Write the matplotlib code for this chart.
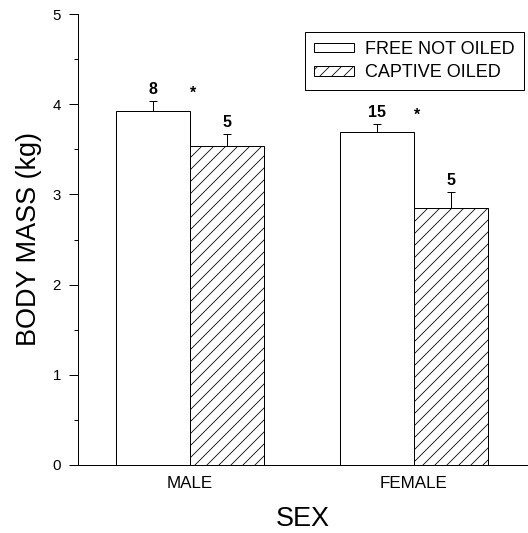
import matplotlib
matplotlib.use('Agg')
import matplotlib.pyplot as plt
import numpy as np

# data
sexes = ['MALE', 'FEMALE']
free_mean = [3.92, 3.69]
free_sem = [0.11, 0.09]
free_n = [8, 15]
oiled_mean = [3.54, 2.85]
oiled_sem = [0.13, 0.18]
oiled_n = [5, 5]
series_names = ['FREE NOT OILED', 'CAPTIVE OILED']

plt.rcParams['font.family'] = ['Liberation Sans', 'DejaVu Sans']
plt.rcParams['hatch.linewidth'] = 0.8

# dpi 72 so one point is one pixel
fig = plt.figure(figsize=(528 / 72, 533 / 72), dpi=72)
ax = fig.add_axes([78 / 528, 1 - 465 / 533, 450 / 528, 451 / 533])

x = np.arange(len(sexes))
w = 0.33
err_kw = dict(ecolor='black', elinewidth=1, capsize=4, capthick=1)

b1 = ax.bar(x - w / 2, free_mean, w, color='white', edgecolor='black', linewidth=1,
            yerr=[np.zeros(len(x)), free_sem], error_kw=err_kw, label=series_names[0])
b2 = ax.bar(x + w / 2, oiled_mean, w, color='white', edgecolor='black', linewidth=1,
            hatch='//', yerr=[np.zeros(len(x)), oiled_sem], error_kw=err_kw,
            label=series_names[1])

for xs, m, s, n in zip(x - w / 2, free_mean, free_sem, free_n):
    ax.annotate(str(n), (xs, m + s), xytext=(0, 4), textcoords='offset points',
                ha='center', va='bottom', fontsize=16, fontweight='bold')
for xs, m, s, n in zip(x + w / 2, oiled_mean, oiled_sem, oiled_n):
    ax.annotate(str(n), (xs, m + s), xytext=(0, 4), textcoords='offset points',
                ha='center', va='bottom', fontsize=16, fontweight='bold')
# significance stars
for xs, m, s in zip(x, free_mean, free_sem):
    ax.annotate('*', (xs, m + s), xytext=(3, 1), textcoords='offset points',
                ha='center', va='bottom', fontsize=16, fontweight='bold')

ax.set_xlim(-0.5, 1.51)
ax.set_ylim(0, 5)
ax.set_yticks([0, 1, 2, 3, 4, 5])
ax.set_yticks(np.arange(0.5, 5, 1), minor=True)
ax.set_xticks(x)
ax.set_xticklabels(sexes, fontsize=17)
ax.tick_params(axis='x', length=0, pad=11)
ax.tick_params(axis='y', which='major', length=9, width=1, labelsize=15, pad=8)
ax.tick_params(axis='y', which='minor', length=4, width=1)
for side in ['top', 'right']:
    ax.spines[side].set_visible(False)
for side in ['left', 'bottom']:
    ax.spines[side].set_linewidth(1)

ax.set_xlabel('SEX', fontsize=27, labelpad=15)
ax.set_ylabel('BODY MASS (kg)', fontsize=27, labelpad=10)

leg = ax.legend(loc='upper right', bbox_to_anchor=(0.99, 0.96), fontsize=18,
                frameon=True, fancybox=False, edgecolor='black', framealpha=1,
                handlelength=2.2, handleheight=0.45, handletextpad=0.6,
                labelspacing=0.35, borderpad=0.5, borderaxespad=0)
leg.get_frame().set_linewidth(1)

fig.savefig('out.png', dpi=72)
